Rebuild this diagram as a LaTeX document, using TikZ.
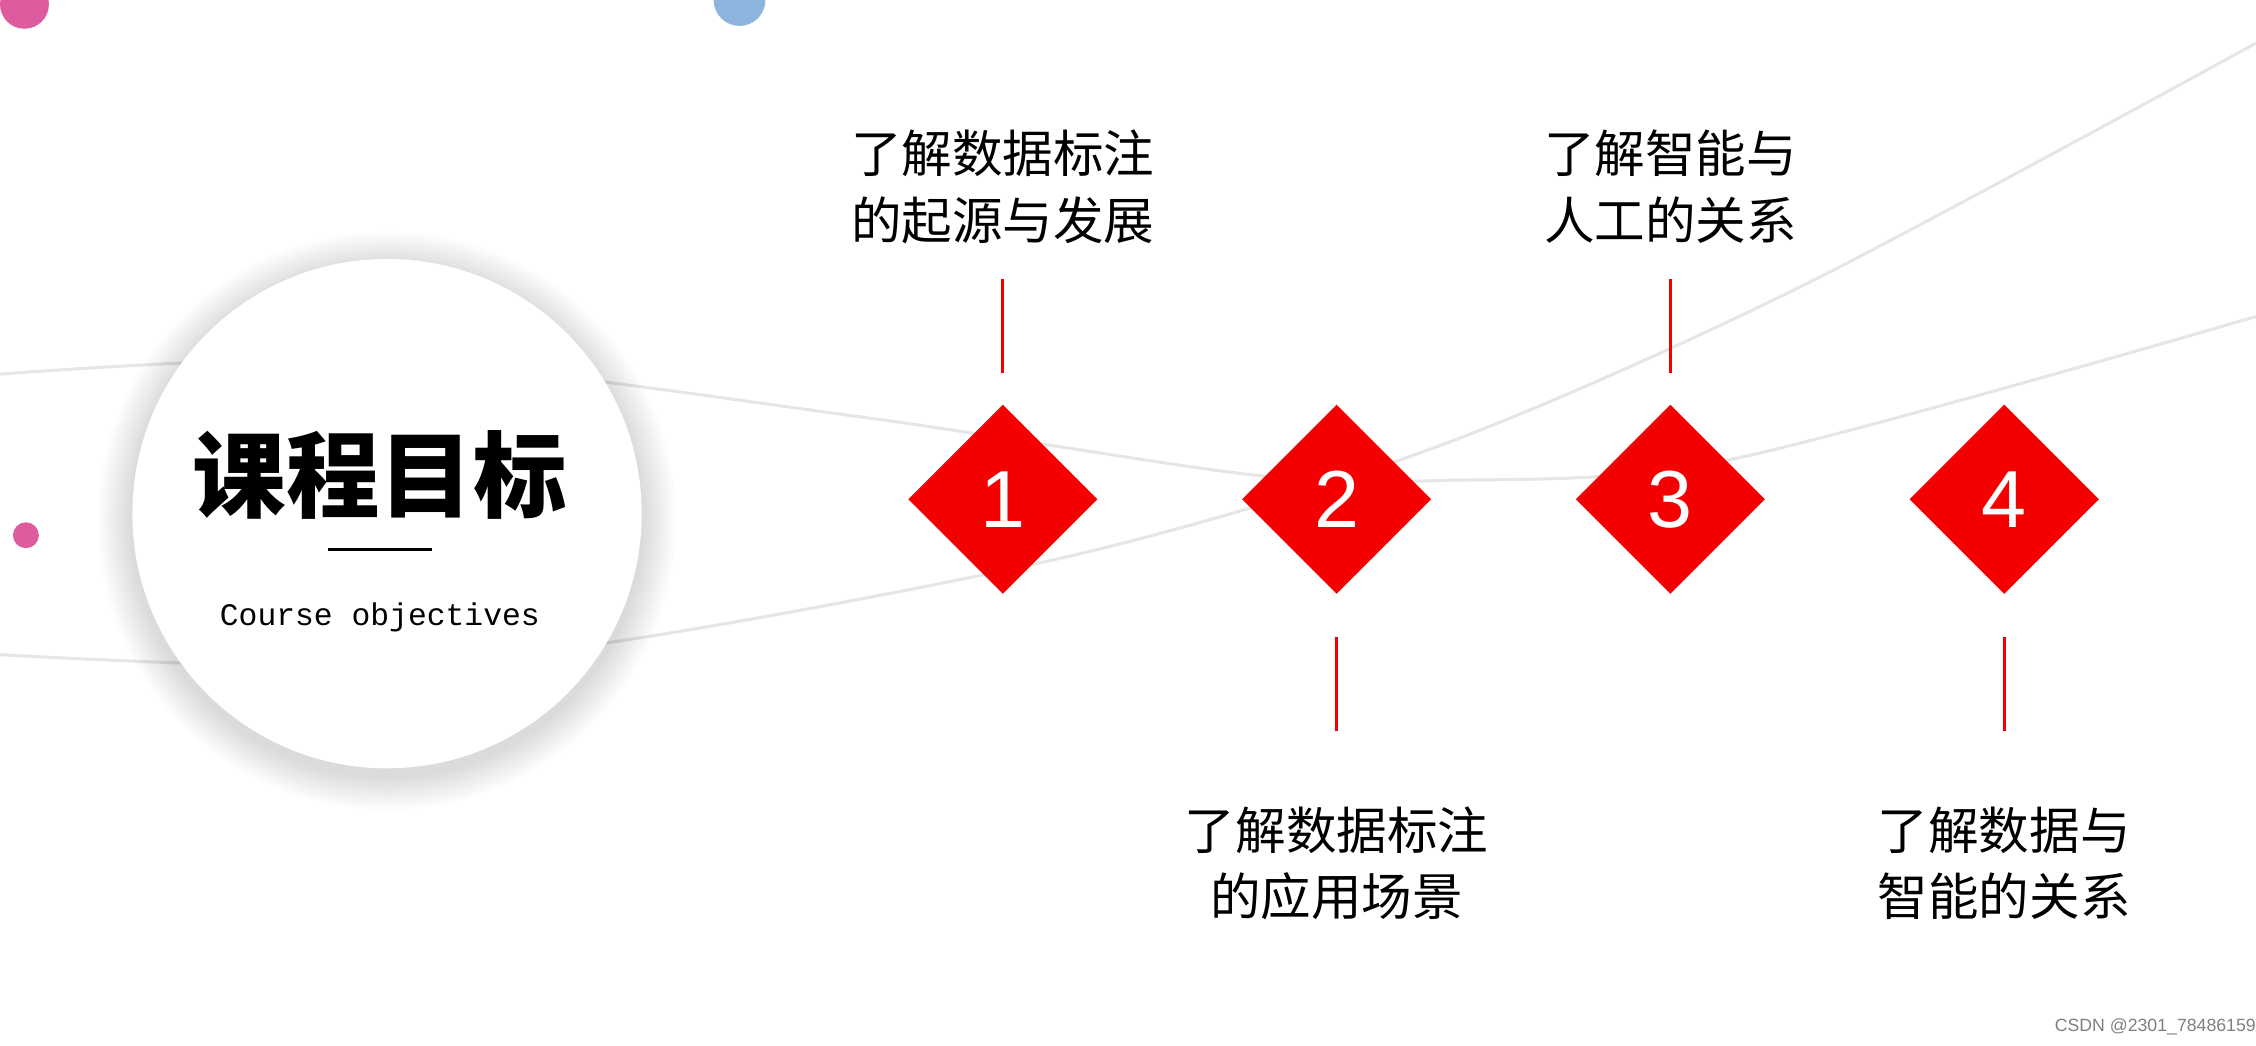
\documentclass[tikz,border=0pt]{standalone}
\usepackage{fontspec}
\newfontfamily\cjk{Noto Sans CJK SC}
\newfontfamily\numf{Liberation Sans}
\newfontfamily\monof{Liberation Mono}
\usetikzlibrary{shapes.geometric}
\definecolor{dred}{HTML}{F50000}
\definecolor{pinkc}{HTML}{DE5C9E}
\definecolor{bluec}{HTML}{8CB4DC}
\definecolor{curvec}{HTML}{E6E6E6}
\tikzset{
 dia/.style={diamond,fill=dred,minimum width=132\px,minimum height=132\px,inner sep=0pt,text=white,font=\numf\fontsize{16}{16}\selectfont},
 lab/.style={align=center,font=\cjk\fontsize{10}{13.2}\selectfont},
 tick/.style={draw=dred,line width=0.6pt},
 curve/.style={draw=curvec,line width=0.6pt}
}
\newlength{\px}\setlength{\px}{0.1mm}
\begin{document}
\begin{tikzpicture}[x=0.1mm,y=-0.1mm]
\useasboundingbox (0,0) rectangle (1568,727);
\clip (0,0) rectangle (1568,727);
\fill[white] (0,0) rectangle (1568,727);
\draw[curve] plot[smooth] coordinates {(0,260) (270,250) (600,290) (870,330) (1000,334) (1200,320) (1568,220)};
\draw[curve] plot[smooth] coordinates {(0,455) (200,462) (420,447) (750,385) (1000,310) (1250,200) (1568,30)};
\fill[pinkc] (17,3) circle (17);
\fill[bluec] (514,0) circle (18);
\fill[pinkc] (18,372) circle (9);
\foreach \i in {1,...,12}{\fill[black,opacity=0.012] (269,362) circle ({177+\i*2});}
\node[circle,fill=white,minimum size=354\px,inner sep=0pt] (big) at (269,357) {};
\node[font=\cjk\bfseries\fontsize{18.5}{20}\selectfont] (title) at (264,330) {课程目标};
\draw[line width=0.5pt] (228,382) coordinate (l1) -- (300,382) coordinate (l2);
\node[font=\monof\fontsize{6.2}{7}\selectfont] (sub) at (264,429) {Course objectives};
\foreach \n/\x in {1/697,2/929,3/1161,4/1393}{\node[dia] (d\n) at (\x,347) {\n};}
\coordinate (t1a) at (697,194); \coordinate (t1b) at (697,259);
\coordinate (t3a) at (1161,194); \coordinate (t3b) at (1161,259);
\coordinate (t2a) at (929,443); \coordinate (t2b) at (929,508);
\coordinate (t4a) at (1393,443); \coordinate (t4b) at (1393,508);
\draw[tick] (t1a)--(t1b); \draw[tick] (t3a)--(t3b);
\draw[tick] (t2a)--(t2b); \draw[tick] (t4a)--(t4b);
\node[lab] (a1) at (697,130) {了解数据标注\\的起源与发展};
\node[lab] (a3) at (1161,130) {了解智能与\\人工的关系};
\node[lab] (a2) at (929,600) {了解数据标注\\的应用场景};
\node[lab] (a4) at (1393,600) {了解数据与\\智能的关系};
\node[font=\numf\fontsize{3.5}{4}\selectfont,text=gray] (wm) at (1498,714) {CSDN @2301\_78486159};
\end{tikzpicture}
\end{document}
